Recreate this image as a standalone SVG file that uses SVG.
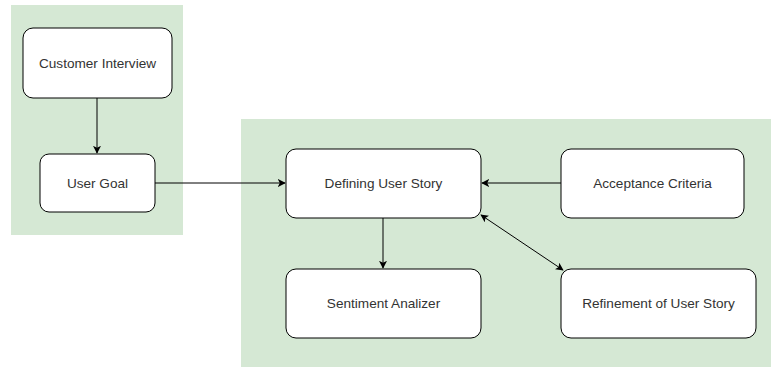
<svg xmlns="http://www.w3.org/2000/svg" width="771" height="367" viewBox="0 0 771 367">
<style>
.box{fill:#ffffff;stroke:#000000;stroke-width:1}
.grp{fill:#d5e8d4;stroke:none}
.lbl{font-family:"Liberation Sans",Arial,sans-serif;font-size:13.6px;fill:#333333;text-anchor:middle;dominant-baseline:central}
.edge{stroke:#000000;stroke-width:1;fill:none}
</style>
<defs>
<marker id="arr" viewBox="0 0 10 10" refX="9" refY="5" markerWidth="8" markerHeight="8" orient="auto-start-reverse" markerUnits="userSpaceOnUse">
<path d="M0,0 L10,5 L0,10 L2.5,5 Z" fill="#000000"/>
</marker>
</defs>
<rect id="groupLeft" class="grp" x="11" y="5" width="172" height="230"/>
<rect id="groupRight" class="grp" x="241" y="119" width="530" height="248"/>
<g id="customer-interview">
<rect class="box" x="23" y="28" width="149" height="70" rx="10"/>
<text class="lbl" x="97.5" y="63">Customer Interview</text>
</g>
<g id="user-goal">
<rect class="box" x="40" y="154" width="115" height="58" rx="9"/>
<text class="lbl" x="97.5" y="183">User Goal</text>
</g>
<g id="defining-user-story">
<rect class="box" x="286" y="149" width="195" height="69" rx="10"/>
<text class="lbl" x="383.5" y="183.5">Defining User Story</text>
</g>
<g id="acceptance-criteria">
<rect class="box" x="561" y="149" width="183" height="69" rx="10"/>
<text class="lbl" x="652.5" y="183.5">Acceptance Criteria</text>
</g>
<g id="sentiment-analizer">
<rect class="box" x="286" y="269" width="195" height="69" rx="10"/>
<text class="lbl" x="383.5" y="303.5">Sentiment Analizer</text>
</g>
<g id="refinement">
<rect class="box" x="561" y="269" width="195" height="69" rx="10"/>
<text class="lbl" x="658.5" y="303.5">Refinement of User Story</text>
</g>
<g id="connectors">
<path class="edge" d="M97,98 L97,153" marker-end="url(#arr)"/>
<path class="edge" d="M155,183 L285,183" marker-end="url(#arr)"/>
<path class="edge" d="M561,183 L482,183" marker-end="url(#arr)"/>
<path class="edge" d="M383,218 L383,268" marker-end="url(#arr)"/>
<path class="edge" d="M481,215 L563,270" marker-start="url(#arr)" marker-end="url(#arr)"/>
</g>
</svg>
